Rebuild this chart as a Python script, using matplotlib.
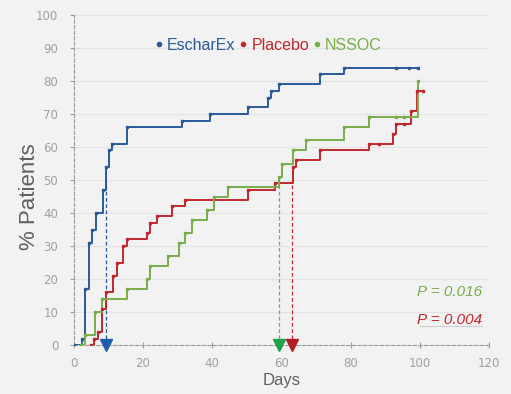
import numpy as np
import matplotlib
matplotlib.use("Agg")
import matplotlib.pyplot as plt
from matplotlib.lines import Line2D

# time to wound closure (days) vs cumulative % of patients
esc_t = [0, 2.4, 3.3, 4.5, 5.3, 6.4, 8.4, 9.3, 10.2, 11.2, 15.4, 31.3, 39.3, 50.4,
         56.1, 57.1, 59.2, 71.2, 78.2, 93.0, 97.0, 99.4]
esc_y = [0, 2, 17, 31, 35, 40, 47, 54, 59, 61, 66, 68, 70, 72,
         75, 77, 79, 82, 84, 84, 84, 84]

pla_t = [5.0, 5.9, 7.0, 8.3, 9.3, 11.5, 12.4, 14.4, 15.3, 21.3, 22.2, 24.1, 28.5, 32.3,
         50.4, 58.3, 63.3, 64.3, 71.2, 85.2, 88.3, 92.2, 93.1, 95.5, 97.5, 99.2, 101.0]
pla_y = [0, 2, 4, 11, 16, 21, 25, 30, 32, 34, 37, 39, 42, 44,
         47, 49, 54, 56, 59, 61, 61, 64, 67, 67, 71, 77, 77]

nss_t = [2.0, 3.3, 6.2, 8.3, 15.3, 21.3, 22.2, 27.3, 30.5, 32.3, 34.2, 38.6, 40.5, 44.6,
         59.3, 60.2, 63.3, 67.2, 78.2, 85.2, 93.0, 95.5, 99.4]
nss_y = [0, 3, 10, 14, 17, 20, 24, 27, 31, 34, 38, 41, 45, 48,
         51, 55, 59, 62, 66, 69, 69, 69, 80]

medians = [9.3, 59.3, 63.0]
names = ["EscharEx", "Placebo", "NSSOC"]
p_labels = ["P = 0.016", "P = 0.004"]

blue = "#2a5a98"
red = "#c0272d"
green = "#78ad4a"
tri_colors = ["#1f5ea8", "#1ea24a", "#b01d22"]

fig = plt.figure(figsize=(5.11, 3.94), dpi=100)
fig.patch.set_facecolor("#f2f2f2")
ax = fig.add_axes([0.144, 0.124, 0.813, 0.838])
ax.set_facecolor("#f2f2f2")

for t, y, c in [(esc_t, esc_y, blue), (pla_t, pla_y, red), (nss_t, nss_y, green)]:
    ax.step(t, y, where="post", color=c, lw=1.4, zorder=3)
    ax.plot(t, y, ls="none", marker="s", ms=2, color=c, zorder=4)

# median lines + triangles
for m, c, tc in zip(medians, [blue, green, red], tri_colors):
    ax.vlines(m, 0, 50, colors=c, linestyles=(0, (3, 2)), lw=0.9, zorder=2)
    ax.plot(m, 0, marker="v", ms=8, color=tc, clip_on=False, zorder=5)

ax.set_xlim(0, 120)
ax.set_ylim(0, 100)
ax.set_xticks(np.arange(0, 121, 20))
ax.set_yticks(np.arange(0, 101, 10))
ax.yaxis.grid(True, color="#e3e3e3", lw=0.9)
ax.set_axisbelow(True)

for s in ["top", "right"]:
    ax.spines[s].set_visible(False)
for s in ["left", "bottom"]:
    ax.spines[s].set_color("#9a9a9a")
    ax.spines[s].set_linestyle((0, (3, 2)))
    ax.spines[s].set_linewidth(0.8)
ax.tick_params(colors="#9a9a9a", labelcolor="#a0a0a0", labelsize=8.5, length=3, width=0.8)
ax.tick_params(axis="y", pad=8)
ax.tick_params(axis="x", direction="inout", length=5, pad=6)

ax.set_xlabel("Days", fontsize=12, color="#606060", labelpad=2, family="Liberation Sans")
ax.set_ylabel("% Patients", fontsize=16, color="#606060", family="Liberation Sans")
ax.yaxis.set_label_coords(-0.08, 0.45)

handles = [Line2D([], [], ls="none", marker="o", ms=3, color=c) for c in [blue, red, green]]
leg = ax.legend(handles, names, loc="center", bbox_to_anchor=(0.47, 0.909), ncol=3,
                frameon=False, handlelength=0.4, handletextpad=0.3, columnspacing=0.3,
                labelcolor=[blue, red, green], prop={"family": "Liberation Sans", "size": 11.5})

ax.text(118, 16, p_labels[0], color=green, ha="right", va="center", style="italic",
        fontsize=11, family="Liberation Sans")
ax.text(118, 7.6, p_labels[1], color=red, ha="right", va="center", style="italic",
        fontsize=11, family="Liberation Sans")
ax.plot([100, 118], [5.8, 5.8], color="#cfcfcf", lw=0.8)

fig.savefig("out.png", dpi=100, facecolor=fig.get_facecolor())
